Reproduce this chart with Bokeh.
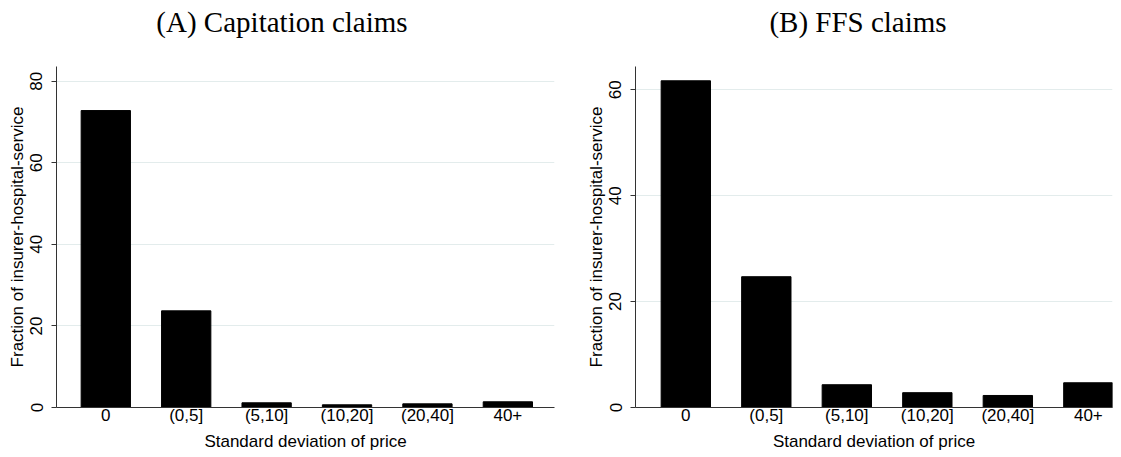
from bokeh.plotting import figure
from bokeh.layouts import row, column
from bokeh.models import Range1d, FixedTicker
from bokeh.core.properties import value
from bokeh.embed import file_html
from bokeh.resources import INLINE

categories = ["0", "(0,5]", "(5,10]", "(10,20]", "(20,40]", "40+"]
capitation = [72.8, 23.7, 1.15, 0.66, 0.9, 1.4]
ffs = [61.7, 24.7, 4.3, 2.8, 2.27, 4.67]
cap_yticks = [0, 20, 40, 60, 80]
ffs_yticks = [0, 20, 40, 60]
titles = ["(A) Capitation claims", "(B) FFS claims"]
x_title = "Standard deviation of price"
y_title = "Fraction of insurer-hospital-service"

SANS = "Liberation Sans"
SERIF = "Liberation Serif"
FRAME_H = 341
TITLE_H = 56


def title_fig(text, width, cx):
    t = figure(frame_width=width, frame_height=TITLE_H,
               x_range=Range1d(0, width), y_range=Range1d(0, TITLE_H),
               x_axis_location=None, y_axis_location=None,
               output_backend="svg", toolbar_location=None,
               min_border=0)
    t.outline_line_color = None
    t.grid.visible = False
    t.text(x=[cx], y=[TITLE_H - 21], text=[text], text_align="center",
           text_baseline="middle", text_font=value(SERIF),
           text_font_size=value("29px"), text_color="black")
    return t


def panel(vals, ymax, yticks, x_lo, x_hi, frame_w, bl, br):
    p = figure(frame_width=frame_w, frame_height=FRAME_H,
               x_range=Range1d(x_lo, x_hi), y_range=Range1d(0, ymax),
               output_backend="svg", toolbar_location=None,
               min_border_left=bl, min_border_right=br,
               min_border_top=66 - TITLE_H, min_border_bottom=50)
    p.outline_line_color = None
    p.background_fill_color = "white"
    xs = list(range(len(categories)))
    p.vbar(x=xs, top=vals, width=0.613, fill_color="black", line_color="black")

    p.xgrid.visible = False
    p.ygrid.grid_line_color = "#e3ecec"
    p.ygrid.grid_line_width = 1
    p.ygrid.ticker = FixedTicker(ticks=yticks)

    xa = p.xaxis[0]
    xa.ticker = FixedTicker(ticks=xs)
    xa.major_label_overrides = {i: c for i, c in enumerate(categories)}
    xa.major_tick_out = 0
    xa.major_tick_in = 0
    xa.minor_tick_out = 0
    xa.axis_line_color = "#333333"
    xa.major_label_text_font = SANS
    xa.major_label_text_font_size = "17px"
    xa.major_label_text_color = "black"
    xa.major_label_standoff = -2
    xa.axis_label = x_title
    xa.axis_label_text_font = SANS
    xa.axis_label_text_font_size = "17px"
    xa.axis_label_text_font_style = "normal"
    xa.axis_label_text_color = "black"
    xa.axis_label_standoff = 4

    ya = p.yaxis[0]
    ya.ticker = FixedTicker(ticks=yticks)
    ya.major_tick_out = 5
    ya.major_tick_in = 0
    ya.minor_tick_out = 0
    ya.minor_tick_in = 0
    ya.axis_line_color = "#333333"
    ya.major_tick_line_color = "#333333"
    ya.major_label_orientation = "vertical"
    ya.major_label_text_font = SANS
    ya.major_label_text_font_size = "17px"
    ya.major_label_text_color = "black"
    ya.major_label_standoff = 9
    ya.axis_label = y_title
    ya.axis_label_text_font = SANS
    ya.axis_label_text_font_size = "17px"
    ya.axis_label_text_font_style = "normal"
    ya.axis_label_text_color = "black"
    ya.axis_label_standoff = 1
    return p


W1 = 56 + 498 + 29
W2 = 48 + 477 + 13
p1 = panel(capitation, 83.6, cap_yticks, -0.613, 5.58, 498, 56, 29)
p2 = panel(ffs, 64.4, ffs_yticks, -0.625, 5.30, 477, 48, 13)
t1 = title_fig(titles[0], W1, 281.5)
t2 = title_fig(titles[1], W2, 857.5 - W1)

layout = column(row(t1, t2), row(p1, p2))
open("out.html", "w").write(file_html(layout, INLINE))
